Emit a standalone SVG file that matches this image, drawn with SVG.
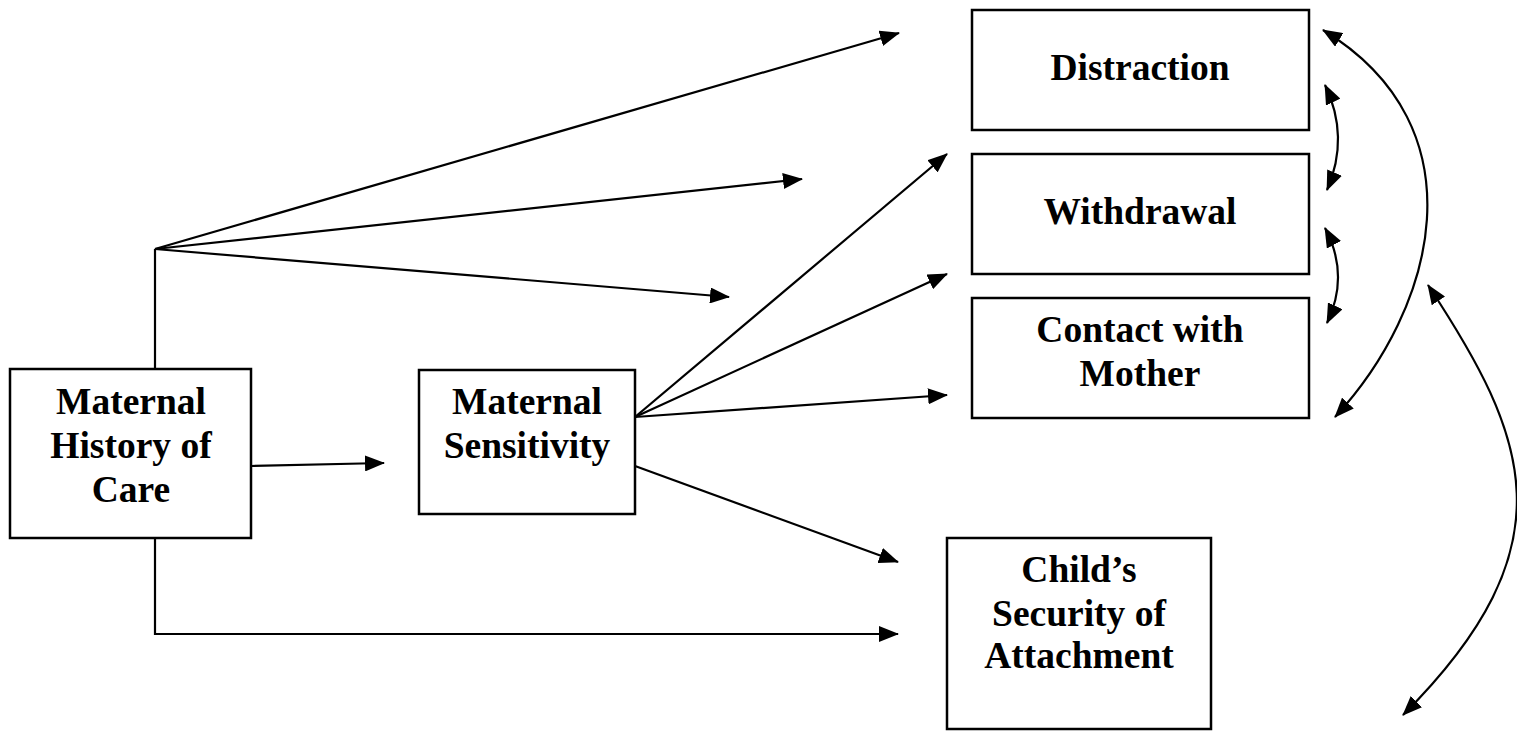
<svg xmlns="http://www.w3.org/2000/svg" width="1517" height="731" viewBox="0 0 1517 731">
<style>
.box{fill:#fff;stroke:#000;stroke-width:2.5}
.lbl{font-family:"Liberation Serif","Times New Roman",serif;font-weight:bold;font-size:37.5px;fill:#000;text-anchor:middle}
.ln{fill:none;stroke:#000;stroke-width:2.2}
.ar{marker-end:url(#ah)}
.dbl{marker-start:url(#ah);marker-end:url(#ah)}
</style>
<defs>
<marker id="ah" markerUnits="userSpaceOnUse" viewBox="0 0 20 16" refX="19" refY="8" markerWidth="20" markerHeight="16" orient="auto-start-reverse">
<path d="M0,0 L20,8 L0,16 Z" fill="#000"/>
</marker>
</defs>
<rect width="1517" height="731" fill="#fff"/>
<g id="connectors">
<polyline class="ln" points="155,369 155,249"/>
<line class="ln ar" x1="155" y1="249" x2="899" y2="33"/>
<line class="ln ar" x1="155" y1="249" x2="802" y2="179"/>
<line class="ln ar" x1="155" y1="249" x2="729" y2="297"/>
<line class="ln ar" x1="251" y1="466" x2="384" y2="463"/>
<polyline class="ln ar" points="155,538 155,634 898,634"/>
<line class="ln ar" x1="635" y1="417" x2="947" y2="154"/>
<line class="ln ar" x1="635" y1="417" x2="947" y2="274"/>
<line class="ln ar" x1="635" y1="417" x2="947" y2="395"/>
<line class="ln ar" x1="635" y1="466" x2="898" y2="562"/>
<path class="ln dbl" d="M1325,85 Q1350,137 1327,190"/>
<path class="ln dbl" d="M1325,228 Q1350,275 1327,323"/>
<path class="ln dbl" d="M1323,30 C1484,128 1435,309 1335,417"/>
<path class="ln dbl" d="M1428,285 C1528,437 1573,545 1403,715"/>
</g>
<g id="history">
<rect class="box" x="10" y="369" width="241" height="169"/>
<text class="lbl" x="131" y="414">Maternal</text>
<text class="lbl" x="131" y="458">History of</text>
<text class="lbl" x="131" y="502">Care</text>
</g>
<g id="sensitivity">
<rect class="box" x="419" y="370" width="216" height="144"/>
<text class="lbl" x="527" y="414">Maternal</text>
<text class="lbl" x="527" y="458">Sensitivity</text>
</g>
<g id="distraction">
<rect class="box" x="972" y="10" width="337" height="120"/>
<text class="lbl" x="1140" y="80">Distraction</text>
</g>
<g id="withdrawal">
<rect class="box" x="972" y="154" width="337" height="120"/>
<text class="lbl" x="1140" y="224">Withdrawal</text>
</g>
<g id="contact">
<rect class="box" x="972" y="298" width="337" height="120"/>
<text class="lbl" x="1140" y="342">Contact with</text>
<text class="lbl" x="1140" y="386">Mother</text>
</g>
<g id="security">
<rect class="box" x="947" y="538" width="264" height="191"/>
<text class="lbl" x="1079" y="582">Child’s</text>
<text class="lbl" x="1079" y="626">Security of</text>
<text class="lbl" x="1079" y="668">Attachment</text>
</g>
</svg>
